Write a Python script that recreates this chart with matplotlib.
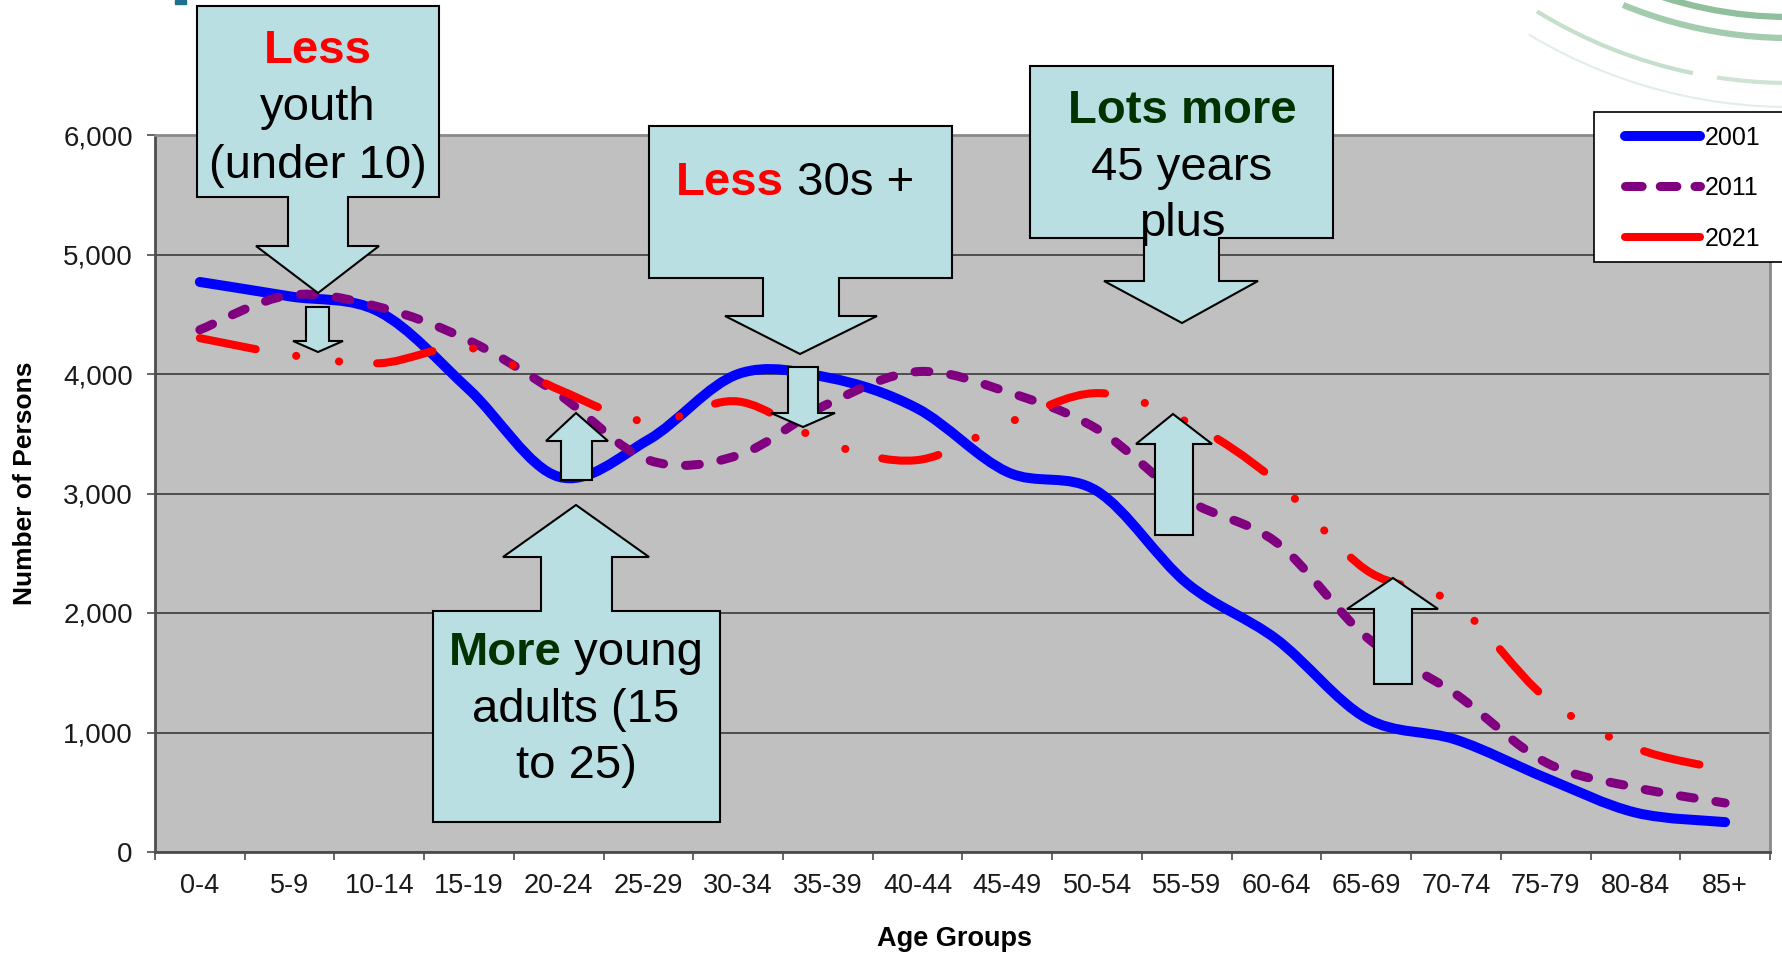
import numpy as np
import matplotlib
matplotlib.use('Agg')
import matplotlib.pyplot as plt
from matplotlib.path import Path
from matplotlib.patches import PathPatch, Polygon, Arc, Rectangle
from matplotlib.lines import Line2D
from matplotlib.ticker import FuncFormatter

# Data
age_groups = ['0-4', '5-9', '10-14', '15-19', '20-24', '25-29', '30-34', '35-39', '40-44',
              '45-49', '50-54', '55-59', '60-64', '65-69', '70-74', '75-79', '80-84', '85+']
pop_2001 = [4770, 4650, 4520, 3870, 3140, 3450, 4000, 3970, 3710,
            3180, 3020, 2250, 1780, 1120, 940, 620, 330, 250]
pop_2011 = [4370, 4660, 4560, 4280, 3830, 3280, 3320, 3750, 4020,
            3850, 3540, 2950, 2590, 1800, 1320, 750, 540, 410]
pop_2021 = [4300, 4160, 4090, 4220, 3870, 3600, 3770, 3420, 3280,
            3590, 3840, 3600, 3100, 2360, 2070, 1290, 870, 690]
y_ticks = [0, 1000, 2000, 3000, 4000, 5000, 6000]

plt.rcParams['font.family'] = ['Liberation Sans', 'DejaVu Sans']
plt.rcParams['lines.scale_dashes'] = False

W, H = 1783, 955
fig = plt.figure(figsize=(W / 100, H / 100), dpi=100)
fig.patch.set_facecolor('white')
ax = fig.add_axes([155 / W, 1 - 852 / H, (1770 - 155) / W, (852 - 135) / H])
ax.set_facecolor('#c0c0c0')


def smooth_path(xs, ys):
    # Excel style smoothed line: cubic bezier through each point
    pts = np.column_stack([xs, ys]).astype(float)
    n = len(pts)
    verts = [pts[0]]
    codes = [Path.MOVETO]
    for i in range(n - 1):
        p0 = pts[max(i - 1, 0)]
        p1 = pts[i]
        p2 = pts[i + 1]
        p3 = pts[min(i + 2, n - 1)]
        verts += [p1 + (p2 - p0) / 6, p2 - (p3 - p1) / 6, p2]
        codes += [Path.CURVE4] * 3
    return Path(verts, codes)


x = np.arange(len(age_groups))
series = [
    (pop_2001, '2001', '#0000ff', 7.2, '-'),
    (pop_2011, '2011', '#800080', 6.5, (0, (10, 15.8))),
    (pop_2021, '2021', '#ff0000', 5.8, (0, (41, 29.5, 0.1, 31, 0.1, 27.4))),
]
for vals, name, color, lw, ls in series:
    p = PathPatch(smooth_path(x, vals), fill=False, edgecolor=color, lw=lw,
                  linestyle=ls, zorder=3)
    p.set_capstyle('round')
    p.set_joinstyle('round')
    ax.add_patch(p)

ax.set_xlim(-0.5, len(age_groups) - 0.5)
ax.set_ylim(0, 6000)
ax.set_yticks(y_ticks)
ax.yaxis.set_major_formatter(FuncFormatter(lambda v, pos: f'{int(v):,}'))
ax.set_xticks(np.arange(-0.5, len(age_groups), 1))
ax.set_xticklabels([])
ax.set_xticks(x, minor=True)
ax.set_xticklabels(age_groups, minor=True)
ax.tick_params(axis='y', direction='out', length=6, width=1.2, color='#4d4d4d',
               labelsize=20, pad=10, labelcolor='#1a1a1a')
ax.tick_params(axis='x', which='major', direction='out', length=6, width=1.2, color='#4d4d4d')
ax.tick_params(axis='x', which='minor', length=0, labelsize=19.5, pad=15, labelcolor='#1a1a1a')
ax.yaxis.grid(True, color='#3a3a3a', lw=1.2)
ax.set_axisbelow(True)
for side in ['left', 'bottom']:
    ax.spines[side].set_color('#4d4d4d')
    ax.spines[side].set_linewidth(2)
for side in ['top', 'right']:
    ax.spines[side].set_color('#8a8a8a')
    ax.spines[side].set_linewidth(2)

fig.text(25 / W, 1 - 483 / H, 'Number of Persons', rotation=90, fontsize=19,
         fontweight='bold', ha='center', va='center')
fig.text(955 / W, 1 - 939 / H, 'Age Groups', fontsize=19.5, fontweight='bold',
         ha='center', va='center')

# Overlay in pixel coordinates for the callouts
ov = fig.add_axes([0, 0, 1, 1])
ov.set_xlim(0, W)
ov.set_ylim(H, 0)
ov.axis('off')

# Legend: frame drawn separately since it runs off the right edge
ov.add_patch(Rectangle((1594, 112), 230, 150, fc='white', ec='black', lw=1.2))
handles = [
    Line2D([], [], color='#0000ff', lw=7.2, solid_capstyle='round'),
    Line2D([], [], color='#800080', lw=6.5, dashes=(12, 13), dash_capstyle='round'),
    Line2D([], [], color='#ff0000', lw=5.8, solid_capstyle='round'),
]
leg = fig.legend(handles, ['2001', '2011', '2021'], loc='upper left',
                 bbox_to_anchor=(1625 / W, 1 - 126 / H), fontsize=18, handlelength=3.0,
                 handletextpad=0.2, labelspacing=1.05, borderpad=0, borderaxespad=0,
                 frameon=False)

# decorative arcs top right
for r, t1, t2, lw, col in [(507, 84, 121, 1.5, '#e3eee6'),
                           (483, 101.6, 121.6, 3, '#c6dfcc'),
                           (483, 84, 98.7, 3, '#cfe3d5'),
                           (438, 84, 112.4, 4.5, '#a3cbae'),
                           (417, 84, 107.7, 4.5, '#8fbf9c')]:
    ov.add_patch(Arc((1790, -400), 2 * r, 2 * r, theta1=t1, theta2=t2, lw=lw, color=col))
ov.add_patch(Rectangle((175, 0), 11, 4, color='#1f6f8f'))

fill = '#b9dfe3'


def down_callout(bx0, by0, bx1, by1, sx0, sx1, hy, hx0, hx1, tx, ty):
    pts = [(bx0, by0), (bx1, by0), (bx1, by1), (sx1, by1), (sx1, hy), (hx1, hy),
           (tx, ty), (hx0, hy), (sx0, hy), (sx0, by1), (bx0, by1)]
    ov.add_patch(Polygon(pts, closed=True, fc=fill, ec='black', lw=1.5))


def up_callout(bx0, by0, bx1, by1, sx0, sx1, hy, hx0, hx1, tx, ty):
    pts = [(bx0, by1), (bx1, by1), (bx1, by0), (sx1, by0), (sx1, hy), (hx1, hy),
           (tx, ty), (hx0, hy), (sx0, hy), (sx0, by0), (bx0, by0)]
    ov.add_patch(Polygon(pts, closed=True, fc=fill, ec='black', lw=1.5))


def down_arrow(sx0, sx1, top, hy, hx0, hx1, tx, ty):
    pts = [(sx0, top), (sx1, top), (sx1, hy), (hx1, hy), (tx, ty), (hx0, hy), (sx0, hy)]
    ov.add_patch(Polygon(pts, closed=True, fc=fill, ec='black', lw=1.5))


def up_arrow(sx0, sx1, bottom, hy, hx0, hx1, tx, ty):
    pts = [(sx0, bottom), (sx1, bottom), (sx1, hy), (hx1, hy), (tx, ty), (hx0, hy), (sx0, hy)]
    ov.add_patch(Polygon(pts, closed=True, fc=fill, ec='black', lw=1.5))


renderer = fig.canvas.get_renderer()


def rich_line(cx, base, parts, size=34):
    texts = []
    for s, color, weight in parts:
        t = ov.text(0, base, s, color=color, fontweight=weight, fontsize=size,
                    ha='left', va='baseline', zorder=5)
        texts.append(t)
    widths = [t.get_window_extent(renderer).width for t in texts]
    pos = cx - sum(widths) / 2
    for t, w in zip(texts, widths):
        t.set_x(pos)
        pos += w


red = '#ff0000'
green = '#003300'

down_callout(197, 6, 439, 197, 288, 348, 246, 256, 379, 318, 293)
rich_line(318, 63, [('Less', red, 'bold')])
rich_line(318, 120, [('youth', 'black', 'normal')])
rich_line(318, 178, [('(under 10)', 'black', 'normal')])

down_callout(649, 126, 952, 278, 763, 839, 316, 725, 877, 800, 354)
rich_line(795, 195, [('Less', red, 'bold'), (' 30s +', 'black', 'normal')])

down_callout(1030, 66, 1333, 238, 1144, 1219, 281, 1104, 1258, 1182, 323)
rich_line(1182, 123, [('Lots more', green, 'bold')])
rich_line(1182, 180, [('45 years', 'black', 'normal')])
rich_line(1182, 236, [('plus', 'black', 'normal')])

up_callout(433, 611, 720, 822, 541, 612, 557, 503, 649, 576, 505)
rich_line(576, 665, [('More', green, 'bold'), (' young', 'black', 'normal')])
rich_line(576, 722, [('adults (15', 'black', 'normal')])
rich_line(576, 778, [('to 25)', 'black', 'normal')])

down_arrow(306, 329, 307, 341, 293, 343, 318, 352)
down_arrow(788, 818, 367, 413, 771, 835, 803, 427)
up_arrow(561, 592, 480, 441, 546, 608, 576, 413)
up_arrow(1155, 1193, 535, 444, 1136, 1212, 1173, 414)
up_arrow(1374, 1412, 684, 609, 1347, 1438, 1393, 578)

fig.savefig('out.png', dpi=100)
